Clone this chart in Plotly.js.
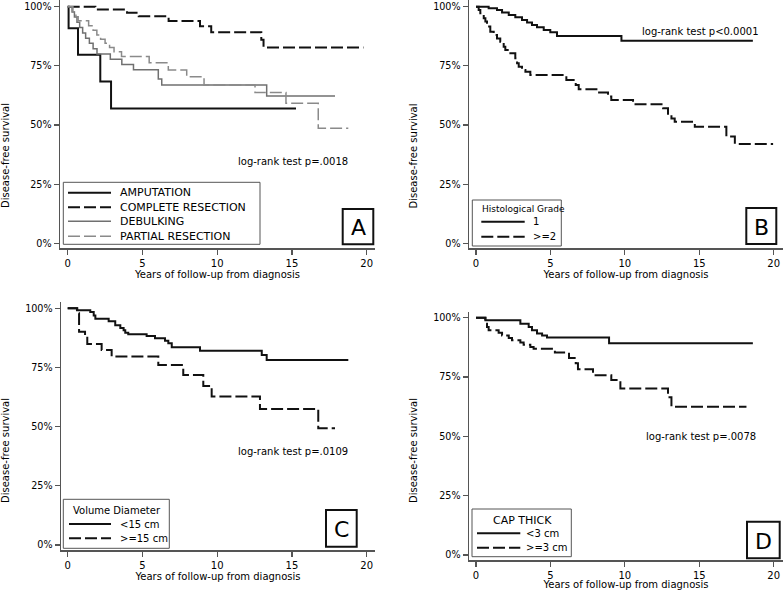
<!DOCTYPE html>
<html>
<head>
<meta charset="utf-8">
<script src="https://cdn.plot.ly/plotly-3.0.1.min.js"></script>
<style>html,body{margin:0;padding:0;background:#fff;}#chart{width:783px;height:590px;}</style>
</head>
<body>
<div id="chart"></div>
<script>
// ---------- DATA ----------
const xTickVals = [0, 5, 10, 15, 20];
const xTickText = ['0', '5', '10', '15', '20'];
const yTickVals = [0, 0.25, 0.5, 0.75, 1];
const yTickText = ['0%', '25%', '50%', '75%', '100%'];
const xTitle = 'Years of follow-up from diagnosis';
const yTitle = 'Disease-free survival';
const panelLetters = ['A', 'B', 'C', 'D'];
const logRankTexts = ['log-rank test p=.0018', 'log-rank test p<0.0001', 'log-rank test p=.0109', 'log-rank test p=.0078'];

// Panel A: surgery type
const surgeryNames = ['AMPUTATION', 'COMPLETE RESECTION', 'DEBULKING', 'PARTIAL RESECTION'];
const amputationT = [0, 0.06, 0.69, 2.18, 2.9, 15.27];
const amputationS = [1, 0.909, 0.797, 0.684, 0.570, 0.570];
const completeT = [0, 1.85, 3.97, 4.75, 6.75, 8.85, 9.6, 12.95, 13.1, 19.78];
const completeS = [1, 0.988, 0.974, 0.960, 0.940, 0.917, 0.892, 0.860, 0.828, 0.828];
const debulkingT = [0, 0.29, 0.45, 0.62, 0.8, 1.0, 1.2, 1.45, 1.7, 1.96, 2.85, 3.62, 4.4, 6.06, 6.29, 13.31, 17.88];
const debulkingS = [1, 0.978, 0.956, 0.934, 0.912, 0.889, 0.867, 0.845, 0.822, 0.800, 0.778, 0.756, 0.733, 0.694, 0.669, 0.623, 0.623];
const partialT = [0, 0.35, 0.55, 0.7, 1.4, 1.7, 1.95, 2.2, 2.5, 2.8, 3.1, 3.6, 5.45, 6.73, 7.96, 9.12, 12.53, 14.6, 16.76, 18.77];
const partialS = [1, 0.979, 0.958, 0.941, 0.920, 0.900, 0.880, 0.862, 0.845, 0.828, 0.810, 0.789, 0.763, 0.732, 0.704, 0.669, 0.637, 0.592, 0.486, 0.486];

// Panel B: histological grade
const gradeTitle = 'Histological Grade';
const gradeNames = ['1', '>=2'];
const grade1T = [0, 0.85, 1.41, 1.75, 2.2, 2.64, 3.09, 3.43, 3.76, 4.1, 4.55, 4.99, 5.44, 9.77, 18.6];
const grade1S = [1, 0.993, 0.986, 0.975, 0.965, 0.955, 0.944, 0.933, 0.923, 0.913, 0.902, 0.892, 0.876, 0.856, 0.856];
const grade2T = [0, 0.18, 0.29, 0.52, 0.63, 0.74, 0.96, 1.19, 1.41, 1.63, 1.86, 1.97, 2.31, 2.64, 2.76, 2.87, 3.09, 3.32, 3.65, 6.07, 6.7, 6.9, 8.09, 8.87, 9.09, 10.55, 12.57, 12.9, 13.13, 13.35, 14.7, 16.82, 17.39, 19.96];
const grade2S = [1, 0.986, 0.972, 0.951, 0.937, 0.916, 0.894, 0.880, 0.866, 0.852, 0.831, 0.817, 0.803, 0.782, 0.761, 0.746, 0.732, 0.725, 0.711, 0.690, 0.669, 0.651, 0.637, 0.620, 0.606, 0.588, 0.571, 0.542, 0.528, 0.514, 0.493, 0.451, 0.420, 0.420];

// Panel C: volume diameter
const volumeTitle = 'Volume Diameter';
const volumeNames = ['<15 cm', '>=15 cm'];
const volLt15T = [0, 0.62, 1.51, 1.74, 1.85, 2.74, 3.18, 3.52, 3.74, 3.85, 4.05, 5.28, 5.84, 6.51, 6.73, 6.96, 8.85, 12.98, 13.31, 18.77];
const volLt15S = [1, 0.992, 0.984, 0.970, 0.956, 0.945, 0.928, 0.917, 0.907, 0.897, 0.890, 0.883, 0.873, 0.863, 0.852, 0.835, 0.821, 0.803, 0.782, 0.782];
const volGe15T = [0, 0.64, 0.76, 1.16, 1.31, 2.27, 2.94, 6.06, 7.73, 9.07, 9.63, 12.86, 16.76, 17.88];
const volGe15S = [1, 0.979, 0.901, 0.880, 0.849, 0.824, 0.796, 0.760, 0.718, 0.672, 0.627, 0.575, 0.493, 0.493];

// Panel D: cap thickness
const capTitle = 'CAP THICK';
const capNames = ['<3 cm', '>=3 cm'];
const capLt3T = [0, 0.63, 2.98, 3.54, 3.76, 4.1, 4.44, 4.77, 8.94, 18.6];
const capLt3S = [1, 0.989, 0.975, 0.961, 0.947, 0.933, 0.925, 0.917, 0.892, 0.892];
const capGe3T = [0, 0.63, 0.74, 0.85, 1.52, 1.75, 2.2, 2.42, 2.98, 3.2, 3.65, 3.87, 5.3, 6.25, 6.7, 6.85, 7.86, 9.09, 9.7, 12.9, 13.13, 18.17];
const capGe3S = [1, 0.975, 0.961, 0.947, 0.937, 0.925, 0.914, 0.905, 0.895, 0.886, 0.877, 0.869, 0.853, 0.830, 0.808, 0.783, 0.758, 0.737, 0.702, 0.665, 0.625, 0.625];

// ---------- STYLE / LAYOUT ----------
const W = 783, H = 590;
const FONT = 'DejaVu Sans, Verdana, sans-serif';
const TXT = '#000';
const AXC = '#555';
const DASH = '12px,4px';
const STY = {
  black: {color: '#111', width: 2, dash: 'solid'},
  blackDash: {color: '#111', width: 2, dash: DASH},
  gray: {color: '#707070', width: 1.5, dash: 'solid'},
  grayDash: {color: '#8a8a8a', width: 1.5, dash: DASH}
};
const escHtml = s => s.replace(/&/g, '&amp;').replace(/</g, '&lt;').replace(/>/g, '&gt;');
const fx = p => p / W;
const fy = p => 1 - p / H;

// panel geometry in pixels: axis box and calibration
const panels = [
  {L: 60, R: 375, T: 0, B: 248.3, x0: 67.7, x20: 366.7, y0: 243.3, y1: 6.7},
  {L: 469, R: 783, T: 0, B: 248.3, x0: 476, x20: 773.7, y0: 243.3, y1: 6.7},
  {L: 61, R: 375, T: 301.7, B: 550, x0: 67.7, x20: 366.7, y0: 545, y1: 308.3},
  {L: 469, R: 783, T: 311.7, B: 560, x0: 476, x20: 773.7, y0: 555, y1: 317.7}
];

const layout = {
  width: W, height: H,
  margin: {l: 0, r: 0, t: 0, b: 0},
  paper_bgcolor: '#fff', plot_bgcolor: 'rgba(0,0,0,0)',
  showlegend: false,
  font: {family: FONT, color: TXT, size: 10},
  annotations: [], shapes: []
};

panels.forEach((p, i) => {
  const sfx = i === 0 ? '' : String(i + 1);
  const xr = [(p.L - p.x0) * 20 / (p.x20 - p.x0), (p.R - p.x0) * 20 / (p.x20 - p.x0)];
  const yr = [(p.y0 - p.B) / (p.y0 - p.y1), (p.y0 - p.T) / (p.y0 - p.y1)];
  layout['xaxis' + sfx] = {
    domain: [fx(p.L), fx(p.R)], range: xr, anchor: 'y' + sfx,
    tickvals: xTickVals, ticktext: xTickText, ticks: 'outside', ticklen: 5, tickwidth: 1.2, tickcolor: AXC,
    showline: true, linecolor: AXC, linewidth: 1.5, showgrid: false, zeroline: false,
    tickfont: {family: FONT, size: 10, color: TXT},
    title: {text: xTitle, standoff: 0, font: {family: FONT, size: 10, color: TXT}}
  };
  layout['yaxis' + sfx] = {
    domain: [fy(p.B), fy(p.T)], range: yr, anchor: 'x' + sfx,
    tickvals: yTickVals, ticktext: yTickText, ticks: 'outside', ticklen: 5, tickwidth: 1.2, tickcolor: AXC,
    showline: true, linecolor: AXC, linewidth: 1.5, showgrid: false, zeroline: false,
    tickfont: {family: FONT, size: 9.6, color: TXT}
  };
});

// traces
const traces = [];
function km(t, s, name, sty, panel) {
  const sfx = panel === 0 ? '' : String(panel + 1);
  traces.push({
    x: t, y: s, name: name, type: 'scatter', mode: 'lines',
    line: {shape: 'hv', color: sty.color, width: sty.width, dash: sty.dash},
    xaxis: 'x' + sfx, yaxis: 'y' + sfx, hoverinfo: 'x+y+name'
  });
}
km(amputationT, amputationS, surgeryNames[0], STY.black, 0);
km(completeT, completeS, surgeryNames[1], STY.blackDash, 0);
km(debulkingT, debulkingS, surgeryNames[2], STY.gray, 0);
km(partialT, partialS, surgeryNames[3], STY.grayDash, 0);
km(grade1T, grade1S, gradeNames[0], STY.black, 1);
km(grade2T, grade2S, gradeNames[1], STY.blackDash, 1);
km(volLt15T, volLt15S, volumeNames[0], STY.black, 2);
km(volGe15T, volGe15S, volumeNames[1], STY.blackDash, 2);
km(capLt3T, capLt3S, capNames[0], STY.black, 3);
km(capGe3T, capGe3S, capNames[1], STY.blackDash, 3);

function ann(text, x, y, size, xanchor, extra) {
  layout.annotations.push(Object.assign({
    text: escHtml(text), x: fx(x), y: fy(y), xref: 'paper', yref: 'paper',
    xanchor: xanchor || 'center', yanchor: 'middle', showarrow: false,
    font: {family: FONT, size: size, color: TXT}
  }, extra || {}));
}
function rect(x0, y0, x1, y1, color, width) {
  layout.shapes.push({type: 'rect', xref: 'paper', yref: 'paper', x0: fx(x0), x1: fx(x1), y0: fy(y0), y1: fy(y1),
    line: {color: color, width: width}, fillcolor: 'rgba(255,255,255,0)'});
}
function sample(x0, x1, y, sty) {
  layout.shapes.push({type: 'line', xref: 'paper', yref: 'paper', x0: fx(x0), x1: fx(x1), y0: fy(y), y1: fy(y),
    line: {color: sty.color, width: sty.width, dash: sty.dash}});
}

// y axis titles
[[5, 156], [413, 156.5], [5, 451], [413, 451]].forEach(([x, y]) => ann(yTitle, x, y, 10, 'center', {textangle: -90}));

// log-rank texts
[[293, 161.7], [700.8, 31.7], [292.5, 451.7], [701.3, 436]].forEach(([x, y], i) => ann(logRankTexts[i], x, y, 10));

// panel letter boxes
[[342.7, 209, 373.3, 244.3], [746.3, 208, 776.3, 244], [326, 510, 356.7, 546.7], [747, 521.7, 779.7, 558.3]].forEach((b, i) => {
  rect(b[0], b[1], b[2], b[3], '#111', 2);
  ann(panelLetters[i], (b[0] + b[2]) / 2, (b[1] + b[3]) / 2 + 1, 22);
});

// legend A
rect(63.3, 182.3, 260, 244.3, AXC, 1);
const legA = [STY.black, STY.blackDash, STY.gray, STY.grayDash];
[192.7, 207.3, 221.3, 236.3].forEach((y, i) => { sample(68, 111, y, legA[i]); ann(surgeryNames[i], 118, y, 11, 'left'); });

// legend B
rect(472.3, 200, 561.3, 246, AXC, 1);
ann(gradeTitle, 479.7, 209.3, 9, 'left');
[221.7, 236.7].forEach((y, i) => { sample(481.3, 524.7, y, i ? STY.blackDash : STY.black); ann(gradeNames[i], 531.3, y, 10, 'left'); });

// legend C
rect(63.3, 499.3, 169.3, 548.3, AXC, 1);
ann(volumeTitle, 116.7, 510, 10);
[524, 538.3].forEach((y, i) => { sample(69, 111, y, i ? STY.blackDash : STY.black); ann(volumeNames[i], 118.3, y, 10, 'left'); });

// legend D
rect(472, 509, 571.3, 556.7, AXC, 1);
ann(capTitle, 522.3, 520, 11);
[533.3, 547.7].forEach((y, i) => { sample(477, 520.3, y, i ? STY.blackDash : STY.black); ann(capNames[i], 523.7, y, 10, 'left'); });

Plotly.newPlot('chart', traces, layout, {displayModeBar: false, staticPlot: true});
</script>
</body>
</html>
